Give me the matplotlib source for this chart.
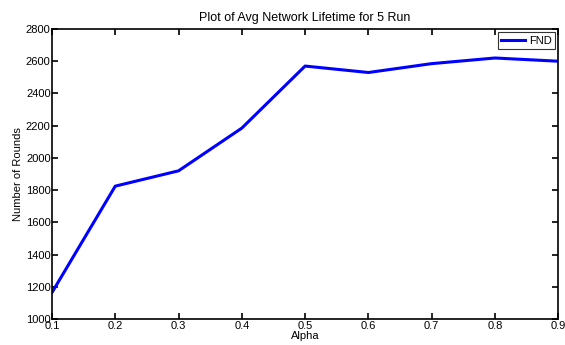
import matplotlib
matplotlib.use("Agg")
import matplotlib.pyplot as plt

alpha = [0.1, 0.2, 0.3, 0.4, 0.5, 0.6, 0.7, 0.8, 0.9]
fnd = [1165, 1825, 1920, 2185, 2570, 2530, 2585, 2620, 2600]

plt.rcParams["font.family"] = ["Liberation Sans", "DejaVu Sans"]

fig = plt.figure(figsize=(5.65, 3.45), dpi=100)
ax = fig.add_axes([0.092, 0.075, 0.896, 0.841])

ax.plot(alpha, fnd, color="#0000ff", linewidth=2.2, label="FND")

ax.set_xlim(0.1, 0.9)
ax.set_ylim(1000, 2800)
ax.set_xticks(alpha)
ax.set_xticklabels([f"{a:.1f}" for a in alpha])
ax.set_yticks(range(1000, 2801, 200))
ax.tick_params(direction="in", top=True, right=True, labelsize=8, length=4, width=1.2, pad=1)
for s in ax.spines.values():
    s.set_linewidth(1.2)

ax.set_xlabel("Alpha", fontsize=8, labelpad=0)
ax.set_ylabel("Number of Rounds", fontsize=8, labelpad=2)
ax.set_title("Plot of Avg Network Lifetime for 5 Run", fontsize=9, pad=6)

leg = ax.legend(loc="upper right", fontsize=8, fancybox=False, handlelength=2.2,
                borderpad=0.3, handletextpad=0.3, borderaxespad=0.3)
leg.get_frame().set_edgecolor("black")
leg.get_frame().set_linewidth(0.8)

fig.savefig("out.png", dpi=100)
